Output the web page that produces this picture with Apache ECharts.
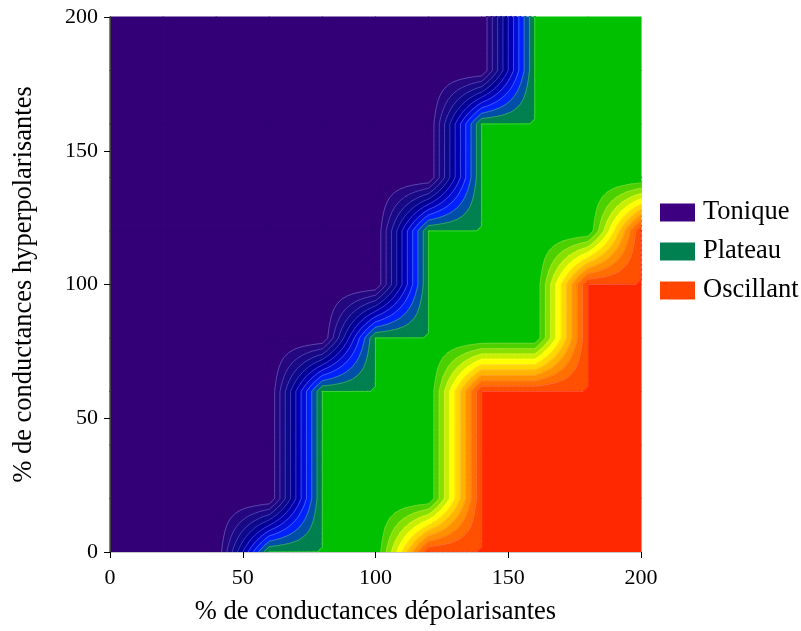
<!DOCTYPE html>
<html><head><meta charset="utf-8">
<script src="https://cdn.jsdelivr.net/npm/echarts@6/dist/echarts.min.js"></script>
<style>html,body{margin:0;padding:0;background:#fff}#c{width:801px;height:631px}</style>
</head><body><div id="c"></div><script>
// grid nodes (% conductances)
const xNodes = [0, 20, 40, 60, 80, 100, 120, 140, 160, 180, 200];
const yNodes = [0, 20, 40, 60, 80, 100, 120, 140, 160, 180, 200];
// behaviour class at each node: 1 = Tonique, 2 = Plateau, 3 = Oscillant (rows: y = 0 .. 200)
const classRows = [
  [1, 1, 1, 2, 2, 2, 3, 3, 3, 3, 3],
  [1, 1, 1, 1, 2, 2, 2, 3, 3, 3, 3],
  [1, 1, 1, 1, 2, 2, 2, 3, 3, 3, 3],
  [1, 1, 1, 1, 2, 2, 2, 3, 3, 3, 3],
  [1, 1, 1, 1, 1, 2, 2, 2, 2, 3, 3],
  [1, 1, 1, 1, 1, 1, 2, 2, 2, 3, 3],
  [1, 1, 1, 1, 1, 1, 2, 2, 2, 2, 3],
  [1, 1, 1, 1, 1, 1, 1, 2, 2, 2, 2],
  [1, 1, 1, 1, 1, 1, 1, 2, 2, 2, 2],
  [1, 1, 1, 1, 1, 1, 1, 1, 2, 2, 2],
  [1, 1, 1, 1, 1, 1, 1, 1, 2, 2, 2]
];
// contour levels and fill colours
const levels = [1.0, 1.1, 1.2, 1.3, 1.4, 1.5, 1.6, 1.7, 1.8, 1.9, 1.9999,
                2.1, 2.2, 2.3, 2.4, 2.5, 2.6, 2.7, 2.8, 2.9, 2.9999];
const bandColors = ['#330077', '#260880', '#1a0a86', '#0e0a8c', '#020096', '#0000b4', '#0010d8', '#0022ff', '#0050a8', '#008050', '#00c000',
                    '#4cd000', '#88e000', '#c8f000', '#ffff00', '#ffd800', '#ffb400', '#ff9000', '#ff7000', '#ff5000', '#ff2800'];
const lineColors = ['', 'rgba(200,180,255,0.45)', 'rgba(200,180,255,0.4)', 'rgba(200,180,255,0.4)', 'rgba(200,180,255,0.4)',
                    'rgba(200,180,255,0.4)', 'rgba(200,200,255,0.4)', 'rgba(200,200,255,0.4)', 'rgba(200,220,255,0.35)', 'rgba(200,255,220,0.3)', 'rgba(255,255,255,0.3)',
                    'rgba(255,255,255,0.2)', 'rgba(255,255,255,0.2)', 'rgba(255,255,255,0.2)', 'rgba(255,255,255,0.2)', 'rgba(255,255,255,0.2)',
                    'rgba(255,255,255,0.2)', 'rgba(255,255,255,0.2)', 'rgba(255,255,255,0.2)', 'rgba(255,255,255,0.25)', 'rgba(255,255,255,0.25)'];
const xTicks = [0, 50, 100, 150, 200];
const yTicks = [0, 50, 100, 150, 200];
const legendNames = ['Tonique', 'Plateau', 'Oscillant'];
const legendColors = ['#3c0080', '#008050', '#ff4500'];

const cells = [];
for (let j = 0; j < yNodes.length - 1; j++)
  for (let i = 0; i < xNodes.length - 1; i++) cells.push([i, j]);

function bandIndex(v) {
  let k = 0;
  for (let m = 0; m < levels.length; m++) if (v >= levels[m] - 1e-9) k = m;
  return k;
}
function clipTri(tri, L) {
  const out = [], seg = [];
  for (let k = 0; k < 3; k++) {
    const A = tri[k], B = tri[(k + 1) % 3];
    const ia = A.v >= L, ib = B.v >= L;
    if (ia) out.push(A.p);
    if (ia !== ib) {
      const t = (L - A.v) / (B.v - A.v);
      const q = [A.p[0] + t * (B.p[0] - A.p[0]), A.p[1] + t * (B.p[1] - A.p[1])];
      out.push(q); seg.push(q);
    }
  }
  return { pts: out, seg: seg };
}
function poly(points, m) {
  const color = bandColors[m];
  return { type: 'polygon', z2: m, shape: { points: points }, style: { fill: color, stroke: color, lineWidth: 1.1 }, silent: true };
}
function renderCell(params, api) {
  const i = api.value(0), j = api.value(1);
  const x0 = xNodes[i], x1 = xNodes[i + 1], y0 = yNodes[j], y1 = yNodes[j + 1];
  const f00 = classRows[j][i], f10 = classRows[j][i + 1], f01 = classRows[j + 1][i], f11 = classRows[j + 1][i + 1];
  const children = [];
  if (f00 === f10 && f00 === f01 && f00 === f11) {
    const a = api.coord([x0, y1]), b = api.coord([x1, y0]);
    const m = bandIndex(f00), c = bandColors[m];
    children.push({ type: 'rect', z2: m, shape: { x: a[0], y: a[1], width: b[0] - a[0], height: b[1] - a[1] },
      style: { fill: c, stroke: c, lineWidth: 1.1 }, silent: true });
    return { type: 'group', children: children };
  }
  const n = 11;
  const N = [];
  for (let a = 0; a <= n; a++) {
    N.push([]);
    for (let b = 0; b <= n; b++) {
      const u = a / n, v = b / n;
      const val = f00 * (1 - u) * (1 - v) + f10 * u * (1 - v) + f01 * (1 - u) * v + f11 * u * v;
      N[a].push({ v: val, p: api.coord([x0 + u * (x1 - x0), y0 + v * (y1 - y0)]) });
    }
  }
  const tris = [];
  for (let a = 0; a < n; a++) for (let b = 0; b < n; b++) {
    tris.push([N[a][b], N[a + 1][b], N[a + 1][b + 1]]);
    tris.push([N[a][b], N[a + 1][b + 1], N[a][b + 1]]);
  }
  tris.forEach(function (t) {
    const mn = Math.min(t[0].v, t[1].v, t[2].v), mx = Math.max(t[0].v, t[1].v, t[2].v);
    const base = bandIndex(mn);
    children.push(poly([t[0].p, t[1].p, t[2].p], base));
    for (let m = base + 1; m < levels.length && levels[m] <= mx + 1e-9; m++) {
      const r = clipTri(t, levels[m]);
      if (r.pts.length >= 3) children.push(poly(r.pts, m));
      if (r.seg.length === 2) children.push({ type: 'line', z2: 100, shape: { x1: r.seg[0][0], y1: r.seg[0][1], x2: r.seg[1][0], y2: r.seg[1][1] },
        style: { stroke: lineColors[m], lineWidth: 0.8 }, silent: true });
    }
  });
  return { type: 'group', children: children };
}

const serif = '"Liberation Serif", "Times New Roman", serif';
const chart = echarts.init(document.getElementById('c'), null, { renderer: 'canvas' });
chart.setOption({
  animation: false,
  backgroundColor: '#ffffff',
  grid: { left: 110, top: 17, width: 531, height: 535 },
  legend: {
    data: legendNames.map(function (n, k) { return { name: n, itemStyle: { color: legendColors[k] } }; }),
    orient: 'vertical', left: 655, top: 194, itemWidth: 35, itemHeight: 18, itemGap: 12,
    icon: 'rect', selectedMode: false,
    textStyle: { fontFamily: serif, fontSize: 26.5, color: '#000', padding: [0, 0, 0, 3] }
  },
  xAxis: [{
    type: 'value', min: 0, max: 200, interval: 50, z: 5,
    name: '% de conductances dépolarisantes', nameLocation: 'middle', nameGap: 47,
    nameTextStyle: { fontFamily: serif, fontSize: 26.5, color: '#000' },
    axisLine: { lineStyle: { color: '#000', width: 1 } },
    axisTick: { show: true, inside: false, length: 6, lineStyle: { color: '#000' } },
    axisLabel: { fontFamily: serif, fontSize: 22, color: '#000', margin: 15,
      formatter: function (v) { return xTicks.indexOf(v) >= 0 ? String(v) : ''; } },
    splitLine: { show: false }
  }, {
    type: 'value', min: 0, max: 200, position: 'top', z: 5,
    axisLine: { show: true, lineStyle: { color: '#c8c8c8' } }, axisTick: { show: false }, axisLabel: { show: false }, splitLine: { show: false }
  }],
  yAxis: [{
    type: 'value', min: 0, max: 200, interval: 50, z: 5,
    name: '% de conductances hyperpolarisantes', nameLocation: 'middle', nameGap: 72,
    nameTextStyle: { fontFamily: serif, fontSize: 26.5, color: '#000' },
    axisLine: { lineStyle: { color: '#000', width: 1 } },
    axisTick: { show: true, inside: false, length: 6, lineStyle: { color: '#000' } },
    axisLabel: { fontFamily: serif, fontSize: 22, color: '#000', margin: 12,
      formatter: function (v) { return yTicks.indexOf(v) >= 0 ? String(v) : ''; } },
    splitLine: { show: false }
  }, {
    type: 'value', min: 0, max: 200, position: 'right', z: 5,
    axisLine: { show: true, lineStyle: { color: '#404040' } }, axisTick: { show: false }, axisLabel: { show: false }, splitLine: { show: false }
  }],
  series: [{
    type: 'custom', name: 'classes', xAxisIndex: 0, yAxisIndex: 0, z: 1, silent: true,
    renderItem: renderCell, data: cells
  }].concat(legendNames.map(function (n, k) {
    return { type: 'bar', name: n, data: [], itemStyle: { color: legendColors[k] } };
  }))
});
</script></body></html>
